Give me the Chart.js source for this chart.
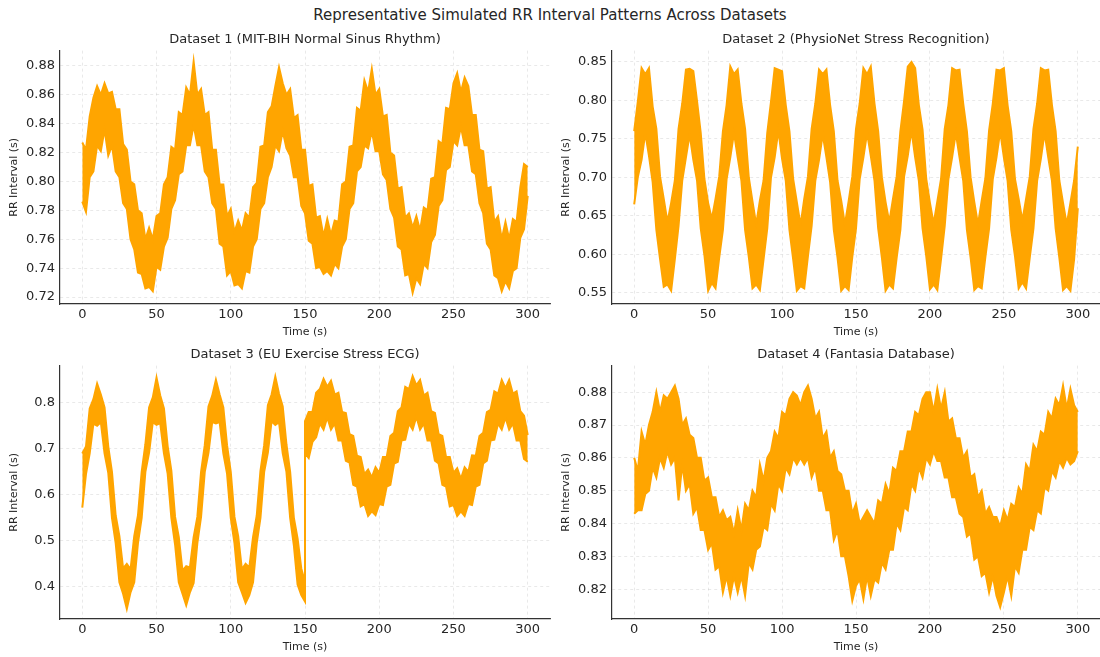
<!DOCTYPE html>
<html>
<head>
<meta charset="utf-8">
<script src="https://cdn.jsdelivr.net/npm/chart.js@4.4.1/dist/chart.umd.min.js"></script>
<style>
  body { margin: 0; background: #fff; }
  #page { position: relative; width: 1100px; height: 657px; overflow: hidden; }
  #suptitle { position: absolute; left: 0; top: 6px; width: 1100px; height: 20px; line-height: 20px;
    text-align: center; font: 15px "DejaVu Sans", sans-serif; color: #262626; }
  canvas { position: absolute; }
</style>
</head>
<body>
<div id="page">
  <div id="suptitle">Representative Simulated RR Interval Patterns Across Datasets</div>
  <canvas id="c1" width="560" height="312" style="left:0px;top:28px"></canvas>
  <canvas id="c2" width="548" height="312" style="left:552px;top:28px"></canvas>
  <canvas id="c3" width="560" height="312" style="left:0px;top:343px"></canvas>
  <canvas id="c4" width="548" height="312" style="left:552px;top:343px"></canvas>
</div>
<script>
// time grid in seconds (every 2.5 s)
const time = [0,2.5,5,7.5,10,12.5,15,17.5,20,22.5,25,27.5,30,32.5,35,37.5,40,42.5,45,47.5,
  50,52.5,55,57.5,60,62.5,65,67.5,70,72.5,75,77.5,80,82.5,85,87.5,90,92.5,95,97.5,
  100,102.5,105,107.5,110,112.5,115,117.5,120,122.5,125,127.5,130,132.5,135,137.5,140,142.5,145,147.5,
  150,152.5,155,157.5,160,162.5,165,167.5,170,172.5,175,177.5,180,182.5,185,187.5,190,192.5,195,197.5,
  200,202.5,205,207.5,210,212.5,215,217.5,220,222.5,225,227.5,230,232.5,235,237.5,240,242.5,245,247.5,
  250,252.5,255,257.5,260,262.5,265,267.5,270,272.5,275,277.5,280,282.5,285,287.5,290,292.5,295,297.5,300];
// dataset 3 has a step at 150 s, so 150 appears twice
const time3 = time.slice(0, 61).concat(time.slice(60));

const xTicks = [0, 50, 100, 150, 200, 250, 300];

// Dataset 1 - upper / lower edge of the noisy trace (s)
const up1 = [.827,.822,.845,.858,.866,.860,.868,.861,.862,.850,
  .850,.826,.822,.800,.798,.780,.778,.760,.768,.760,
  .776,.778,.798,.803,.824,.822,.848,.846,.865,.860,
  .883,.860,.864,.846,.848,.822,.822,.798,.798,.776,
  .781,.765,.773,.766,.778,.775,.796,.799,.824,.825,
  .848,.852,.866,.879,.868,.860,.864,.844,.846,.822,
  .822,.797,.798,.775,.776,.762,.774,.763,.773,.772,
  .798,.800,.824,.825,.851,.849,.870,.862,.878,.860,
  .864,.845,.846,.820,.818,.795,.796,.775,.778,.768,
  .776,.766,.782,.780,.802,.803,.828,.826,.851,.850,
  .868,.875,.862,.872,.866,.846,.846,.822,.821,.795,
  .796,.772,.776,.760,.772,.760,.774,.772,.796,.812,
  .810];
const lo1 = [.786,.779,.803,.807,.825,.821,.836,.818,.825,.807,
  .803,.785,.781,.760,.753,.737,.736,.726,.727,.724,
  .741,.739,.755,.761,.781,.787,.805,.807,.825,.825,
  .839,.825,.825,.807,.803,.785,.781,.757,.755,.735,
  .738,.728,.729,.726,.738,.737,.755,.760,.781,.785,
  .803,.810,.825,.821,.835,.823,.818,.803,.803,.783,
  .778,.759,.757,.740,.741,.736,.738,.735,.743,.740,
  .755,.760,.781,.785,.807,.810,.825,.823,.835,.821,
  .821,.805,.801,.781,.775,.755,.753,.735,.736,.723,
  .733,.729,.743,.740,.758,.763,.783,.787,.808,.810,
  .828,.825,.838,.825,.825,.807,.805,.785,.778,.757,
  .753,.735,.733,.724,.731,.726,.738,.740,.761,.767,
  .790];
const yTicks1 = [0.72, 0.74, 0.76, 0.78, 0.80, 0.82, 0.84, 0.86, 0.88];

// Dataset 2
const up2 = [.760,.799,.842,.834,.842,.792,.763,.701,.672,.642,
  .667,.696,.763,.796,.840,.841,.838,.799,.758,.698,
  .667,.646,.672,.701,.760,.794,.844,.834,.840,.796,
  .763,.700,.669,.639,.670,.696,.758,.798,.842,.840,
  .838,.794,.760,.698,.668,.638,.672,.701,.763,.796,
  .840,.834,.840,.794,.760,.696,.670,.639,.669,.701,
  .763,.796,.842,.834,.844,.796,.760,.700,.668,.642,
  .672,.701,.760,.799,.844,.850,.842,.794,.762,.698,
  .667,.640,.669,.698,.763,.794,.842,.839,.840,.796,
  .760,.700,.668,.639,.670,.699,.761,.796,.840,.839,
  .842,.794,.760,.698,.672,.644,.672,.701,.763,.796,
  .842,.839,.840,.794,.760,.696,.667,.639,.667,.696,
  .740];
const lo2 = [.665,.701,.723,.758,.728,.694,.632,.594,.558,.561,
  .553,.594,.637,.696,.726,.756,.723,.696,.634,.599,
  .553,.563,.556,.596,.632,.698,.726,.758,.726,.696,
  .632,.597,.556,.561,.554,.594,.634,.700,.726,.761,
  .724,.696,.632,.594,.553,.559,.556,.598,.637,.696,
  .723,.756,.726,.694,.632,.596,.553,.559,.554,.597,
  .634,.698,.726,.758,.728,.696,.634,.596,.553,.561,
  .556,.596,.632,.701,.728,.761,.726,.696,.634,.598,
  .555,.561,.554,.594,.637,.698,.726,.758,.726,.696,
  .632,.596,.554,.559,.556,.597,.634,.698,.726,.760,
  .726,.696,.632,.598,.556,.564,.556,.596,.634,.696,
  .724,.758,.726,.696,.634,.596,.554,.559,.553,.594,
  .660];
const yTicks2 = [0.55, 0.60, 0.65, 0.70, 0.75, 0.80, 0.85];

// Dataset 3 (values on time3)
const up3 = [.690,.705,.788,.808,.842,.818,.790,.705,.650,.555,
  .510,.440,.450,.438,.510,.555,.650,.710,.790,.812,
  .855,.816,.788,.706,.652,.552,.508,.435,.445,.442,
  .508,.552,.650,.708,.792,.815,.850,.818,.790,.708,
  .650,.552,.510,.438,.450,.442,.508,.555,.652,.708,
  .795,.818,.857,.820,.792,.710,.650,.550,.505,.440,
  .410,.760,
  .780,.780,.822,.830,.852,.835,.848,.818,.822,.780,
  .778,.732,.728,.685,.682,.645,.655,.638,.660,.648,
  .682,.682,.728,.735,.782,.790,.835,.830,.858,.838,
  .850,.816,.822,.782,.778,.732,.728,.682,.682,.648,
  .658,.635,.660,.650,.686,.685,.728,.735,.780,.785,
  .825,.820,.850,.832,.850,.820,.825,.782,.772,.730];
const lo3 = [.572,.645,.690,.755,.750,.758,.690,.648,.550,.495,
  .410,.385,.352,.388,.410,.495,.550,.650,.692,.758,
  .752,.756,.690,.646,.550,.492,.410,.385,.360,.388,
  .408,.495,.552,.650,.692,.758,.755,.758,.690,.646,
  .550,.495,.410,.388,.365,.382,.410,.495,.550,.650,
  .692,.760,.752,.758,.690,.650,.550,.490,.405,.382,
  .368,.690,
  .680,.715,.725,.755,.742,.768,.742,.755,.718,.718,
  .674,.670,.622,.618,.575,.580,.554,.564,.556,.580,
  .578,.618,.622,.668,.672,.718,.720,.755,.742,.770,
  .742,.755,.718,.718,.674,.668,.622,.618,.575,.578,
  .554,.564,.554,.580,.578,.618,.622,.668,.674,.718,
  .720,.755,.742,.768,.742,.755,.718,.718,.678,.672];
const yTicks3 = [0.4, 0.5, 0.6, 0.7, 0.8];

// Dataset 4
const up4 = [.860,.856,.868,.864,.870,.874,.880,.874,.879,.878,
  .880,.882,.878,.870,.872,.867,.866,.860,.860,.853,
  .854,.848,.848,.842,.844,.841,.842,.837,.844,.838,
  .846,.844,.850,.848,.858,.853,.860,.862,.868,.866,
  .874,.873,.878,.880,.879,.876,.880,.882,.878,.872,
  .874,.866,.868,.860,.862,.856,.855,.850,.850,.843,
  .846,.840,.842,.844,.842,.840,.847,.846,.852,.849,
  .857,.856,.862,.862,.868,.868,.874,.873,.878,.880,
  .880,.874,.881,.875,.880,.871,.872,.866,.866,.860,
  .862,.854,.855,.848,.850,.843,.845,.842,.842,.839,
  .844,.841,.846,.845,.851,.849,.858,.856,.864,.862,
  .868,.867,.874,.872,.878,.876,.882,.875,.881,.876,
  .874];
const lo4 = [.843,.844,.844,.849,.850,.857,.854,.860,.857,.862,
  .858,.860,.847,.858,.850,.852,.843,.845,.838,.838,
  .832,.834,.826,.827,.819,.824,.818,.824,.819,.824,
  .818,.828,.826,.832,.833,.839,.838,.846,.844,.852,
  .850,.857,.855,.860,.858,.860,.858,.860,.854,.857,
  .850,.850,.844,.844,.835,.838,.830,.830,.824,.8165,
  .821,.823,.817,.824,.818,.823,.822,.828,.826,.832,
  .832,.840,.838,.845,.844,.852,.850,.857,.854,.860,
  .858,.862,.859,.859,.854,.854,.848,.848,.843,.842,
  .836,.837,.829,.830,.824,.825,.819,.824,.818,.8145,
  .819,.824,.818,.827,.825,.832,.832,.839,.838,.844,
  .843,.851,.850,.856,.854,.859,.857,.860,.858,.859,
  .862];
const yTicks4 = [0.82, 0.83, 0.84, 0.85, 0.86, 0.87, 0.88];

const FONT = '"DejaVu Sans", sans-serif';
const TXT = '#262626';
const LINE = '#ffa500';

function makePanel(id, title, t, up, lo, yTicks, yMin, yMax, dec, padRight) {
  const pts = arr => arr.map((v, i) => ({ x: t[i], y: v }));
  new Chart(document.getElementById(id), {
    type: 'line',
    data: {
      datasets: [
        { data: pts(up), borderColor: LINE, borderWidth: 2, pointRadius: 0, fill: false },
        { data: pts(lo), borderColor: LINE, borderWidth: 2, pointRadius: 0, fill: '-1', backgroundColor: LINE }
      ]
    },
    options: {
      responsive: false,
      animation: false,
      devicePixelRatio: 1,
      layout: { padding: { left: 0, right: padRight, top: 0, bottom: 0 } },
      plugins: {
        legend: { display: false },
        tooltip: { enabled: false },
        title: {
          display: true, text: title, color: TXT, fullSize: false,
          font: { family: FONT, size: 13, weight: 'normal' },
          padding: { top: 4, bottom: 3 }
        }
      },
      scales: {
        x: {
          type: 'linear', min: -15, max: 315,
          afterBuildTicks: s => { s.ticks = xTicks.map(v => ({ value: v })); },
          afterFit: s => { s.height = 36; },
          ticks: { color: TXT, font: { family: FONT, size: 13 }, padding: 3, maxRotation: 0, autoSkip: false },
          grid: { color: 'rgba(0,0,0,0.11)', lineWidth: 0.8, drawTicks: false },
          border: { color: '#333', width: 1.2, dash: [3, 3] },
          title: { display: true, text: 'Time (s)', color: TXT, font: { family: FONT, size: 11 }, padding: { top: 0, bottom: 1 } }
        },
        y: {
          type: 'linear', min: yMin, max: yMax,
          afterBuildTicks: s => { s.ticks = yTicks.map(v => ({ value: v })); },
          afterFit: s => { s.width = 60; },
          ticks: { color: TXT, font: { family: FONT, size: 13 }, padding: 5, autoSkip: false,
            callback: v => Number(v).toFixed(dec) },
          grid: { color: 'rgba(0,0,0,0.11)', lineWidth: 0.8, drawTicks: false },
          border: { color: '#333', width: 1.2, dash: [3, 3] },
          title: { display: true, text: 'RR Interval (s)', color: TXT, font: { family: FONT, size: 11 }, padding: { top: 8, bottom: 0 } }
        }
      }
    }
  });
}

makePanel('c1', 'Dataset 1 (MIT-BIH Normal Sinus Rhythm)', time, up1, lo1, yTicks1, 0.7152, 0.8906, 2, 10);
makePanel('c2', 'Dataset 2 (PhysioNet Stress Recognition)', time, up2, lo2, yTicks2, 0.5357, 0.8647, 2, 0);
makePanel('c3', 'Dataset 3 (EU Exercise Stress ECG)', time3, up3, lo3, yTicks3, 0.330, 0.881, 1, 10);
makePanel('c4', 'Dataset 4 (Fantasia Database)', time, up4, lo4, yTicks4, 0.8109, 0.8881, 2, 0);
</script>
</body>
</html>
